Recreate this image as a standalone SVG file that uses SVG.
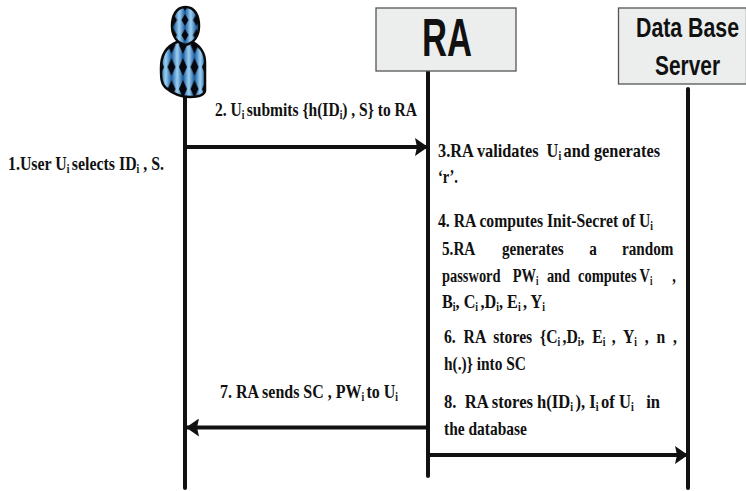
<svg xmlns="http://www.w3.org/2000/svg" width="746" height="491" viewBox="0 0 746 491">
<style>
.t{font-family:"Liberation Serif","Times New Roman",serif;font-weight:bold;font-size:19px;fill:#111}
.t tspan.s{font-size:11.5px;baseline-shift:-3px}
.h{font-family:"Liberation Sans",Arial,sans-serif;font-weight:bold;fill:#111}
.box{fill:#eceeed;stroke:#555;stroke-width:1.3}
.life{stroke:#111;stroke-width:4;stroke-linecap:round;fill:none}
.msg{stroke:#111;stroke-width:4;fill:none;marker-end:url(#ah)}
</style>
<defs>
<marker id="ah" markerUnits="userSpaceOnUse" markerWidth="14" markerHeight="18" refX="13" refY="9" orient="auto"><path d="M0 0L13 9L0 18L2 9Z" fill="#111"/></marker>
<linearGradient id="st"><stop offset="0" stop-color="#1a5a9c"/><stop offset=".5" stop-color="#9ed2f4"/><stop offset="1" stop-color="#1a5a9c"/></linearGradient>
<pattern id="pb" patternUnits="userSpaceOnUse" x="160" y="45" width="11.500" height="22">
<rect width="11.500" height="22" fill="url(#st)"/>
<path d="M0 13L4 22L0 31L-4 22ZM11.500 13L15.500 22L11.500 31L7.500 22ZM0 -9L4 0L0 9L-4 0ZM11.500 -9L15.500 0L11.500 9L7.500 0Z" fill="#05070f"/>
</pattern>
<pattern id="ph" patternUnits="userSpaceOnUse" x="173.500" y="5" width="11.500" height="15">
<rect width="11.500" height="15" fill="url(#st)"/>
<path d="M0 9L3.500 15L0 21L-3.500 15ZM11.500 9L15 15L11.500 21L8 15ZM0 -6L3.500 0L0 6L-3.500 0ZM11.500 -6L15 0L11.500 6L8 0Z" fill="#05070f"/>
</pattern>
</defs>
<g id="connectors">
<path class="life" d="M185 96V488"/>
<path class="life" d="M428 71V476"/>
<path class="life" d="M688 89V488"/>
<path class="msg" d="M186 147H428"/>
<path class="msg" d="M428 427.500H186"/>
<path class="msg" d="M429 455H688"/>
</g>
<g id="user">
<path d="M177 42C167 46 161 54 161 68C161 77 161 84 166 88C172 93 180 97 190 97C198 97 204 95 205 91V62C205 52 199 45 192 42Z" fill="url(#pb)" stroke="#0a0a0a" stroke-width="2.500"/>
<path d="M185.500 7C176 7 172 16 172 26C172 36 177 43 185.500 45C194 43 199 36 199 26C199 16 195 7 185.500 7Z" fill="url(#ph)" stroke="#0a0a0a" stroke-width="2.500"/>
</g>
<g id="ra">
<rect class="box" x="376" y="8" width="140" height="63"/>
<text class="h" x="422" y="56" font-size="53" textLength="50" lengthAdjust="spacingAndGlyphs">RA</text>
</g>
<g id="server">
<rect class="box" x="618.500" y="8" width="128" height="76"/>
<text class="h" x="636" y="37" font-size="28" textLength="103" lengthAdjust="spacingAndGlyphs">Data Base</text>
<text class="h" x="655" y="75" font-size="28" textLength="65" lengthAdjust="spacingAndGlyphs">Server</text>
</g>
<g id="labels">
<text class="t" x="8" y="170" textLength="156" lengthAdjust="spacingAndGlyphs">1.User U<tspan class="s">i </tspan>selects ID<tspan class="s">i</tspan> , S.</text>
<text class="t" x="215" y="116" textLength="202" lengthAdjust="spacingAndGlyphs">2. U<tspan class="s">i </tspan>submits {h(ID<tspan class="s">i</tspan>) , S} to RA</text>
<text class="t" x="438" y="157" textLength="222" lengthAdjust="spacingAndGlyphs" xml:space="preserve">3.RA validates  U<tspan class="s">i </tspan>and generates</text>
<text class="t" x="438" y="183" textLength="20" lengthAdjust="spacingAndGlyphs">‘r’.</text>
<text class="t" x="438" y="227" textLength="215" lengthAdjust="spacingAndGlyphs">4. RA computes Init-Secret of U<tspan class="s">i</tspan></text>
<text class="t" transform="translate(442 255) scale(.8 1)">5.RA <tspan x="75">generates </tspan><tspan x="184">a </tspan><tspan x="225">random</tspan></text>
<text class="t" transform="translate(442 282) scale(.76 1)">password <tspan x="93">PW</tspan><tspan class="s">i </tspan><tspan x="138">and </tspan><tspan x="179">computes </tspan><tspan x="260">V</tspan><tspan class="s">i </tspan><tspan x="303">,</tspan></text>
<text class="t" x="442" y="308" textLength="103" lengthAdjust="spacingAndGlyphs">B<tspan class="s">i</tspan>, C<tspan class="s">i </tspan>,D<tspan class="s">i</tspan>, E<tspan class="s">i </tspan>, Y<tspan class="s">i</tspan></text>
<text class="t" x="444" y="343" textLength="233" lengthAdjust="spacingAndGlyphs" xml:space="preserve">6.  RA  stores  {C<tspan class="s">i </tspan>,D<tspan class="s">i</tspan>,  E<tspan class="s">i </tspan> ,  Y<tspan class="s">i</tspan>  ,  n  ,</text>
<text class="t" x="444" y="370" textLength="82" lengthAdjust="spacingAndGlyphs">h(.)} into SC</text>
<text class="t" x="220" y="398" textLength="178" lengthAdjust="spacingAndGlyphs">7. RA sends SC , PW<tspan class="s">i </tspan>to U<tspan class="s">i</tspan></text>
<text class="t" x="444" y="408" textLength="216" lengthAdjust="spacingAndGlyphs" xml:space="preserve">8.  RA stores h(ID<tspan class="s">i </tspan>), I<tspan class="s">i </tspan>of U<tspan class="s">i</tspan>   in</text>
<text class="t" x="444" y="435" textLength="83" lengthAdjust="spacingAndGlyphs">the database</text>
</g>
</svg>
